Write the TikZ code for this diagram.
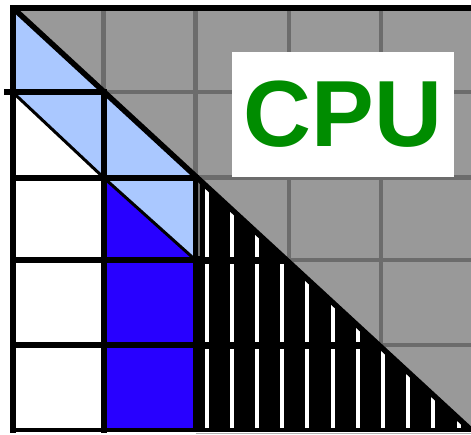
\documentclass[tikz,border=0pt]{standalone}
\usepackage{fontspec}
\setmainfont{Liberation Sans}
\definecolor{lblue}{RGB}{170,200,255}
\definecolor{dblue}{RGB}{40,0,255}
\definecolor{cgray}{RGB}{153,153,153}
\definecolor{gline}{RGB}{108,108,108}
\definecolor{cgreen}{RGB}{0,140,0}
\begin{document}
\begin{tikzpicture}[x=1pt,y=-1pt,
  blk/.style={line width=6pt, black, line cap=rect},
  thin/.style={line width=3pt, black},
  gridg/.style={line width=4.5pt, gline},
  bar/.style={fill=white}]
\useasboundingbox (0,0) rectangle (471,434);
\fill[white] (0,0) rectangle (471,434);
% gray upper triangle
\fill[cgray] (12.5,7.5) -- (472,7.5) -- (472,430) -- cycle;
\begin{scope}
  \clip (12.5,7.5) -- (472,7.5) -- (472,430) -- cycle;
  \foreach \gx in {103.5,195.5,289,381} \draw[gridg] (\gx,7.5) -- (\gx,430);
  \foreach \gy in {92,177.5,260,345} \draw[gridg] (12.5,\gy) -- (472,\gy);
\end{scope}
% hatched region
\begin{scope}
  \clip (195.5,176.1) -- (471,430) -- (471,432) -- (195.5,432) -- cycle;
  \fill[black] (195.5,170) rectangle (472,432);
  \foreach \k in {0,...,10} {
    \pgfmathsetmacro\bx{206.5+25.2*\k}
    \fill[bar] ({\bx-2},170) rectangle ({\bx+2},256.5);
    \fill[bar] ({\bx-2},263.5) rectangle ({\bx+2},341.5);
    \fill[bar] ({\bx-2},348.5) rectangle ({\bx+2},428);
  }
\end{scope}
\draw[line width=3pt, gline] (198,177.5) -- (198,256);
\draw[line width=1pt, gray!60] (195.5,433.5) -- (471,433.5);
% light blue and blue regions
\fill[lblue] (12.5,7.5) -- (12.5,92) -- (103.5,92) -- cycle;
\fill[lblue] (12.5,92) -- (103.5,92) -- (103.5,177.5) -- cycle;
\fill[lblue] (103.5,92) -- (103.5,177.5) -- (195.5,177.5) -- cycle;
\fill[lblue] (103.5,177.5) -- (195.5,177.5) -- (195.5,260) -- cycle;
\fill[dblue] (103.5,177.5) -- (195.5,260) -- (195.5,430) -- (103.5,430) -- cycle;
% black grid lines
\draw[blk] (12.5,7.5) -- (12.5,430);
\draw[blk] (7,92) -- (103.5,92);
\draw[blk] (12.5,177.5) -- (195.5,177.5);
\draw[blk] (12.5,260) -- (195.5,260);
\draw[blk] (12.5,345) -- (195.5,345);
\draw[blk] (103.5,92) -- (103.5,430);
\draw[line width=4.5pt, black] (195.5,177.5) -- (195.5,430);
\draw[line width=4.5pt, black] (12.5,430) -- (471,430);
\draw[thin] (12.5,92) -- (103.5,177.5);
\draw[thin] (103.5,177.5) -- (195.5,260);
% main diagonal and top border
\draw[line width=5.5pt, black] (12.5,7.5) -- (471,430);
\draw[blk] (12.5,7.5) -- (471,7.5);
% label
\node[fill=white, inner sep=0, minimum width=222pt, minimum height=125pt,
      text=cgreen, font=\fontsize{94}{94}\selectfont\bfseries] (cpu) at (343,114.5) {CPU};
\end{tikzpicture}
\end{document}
